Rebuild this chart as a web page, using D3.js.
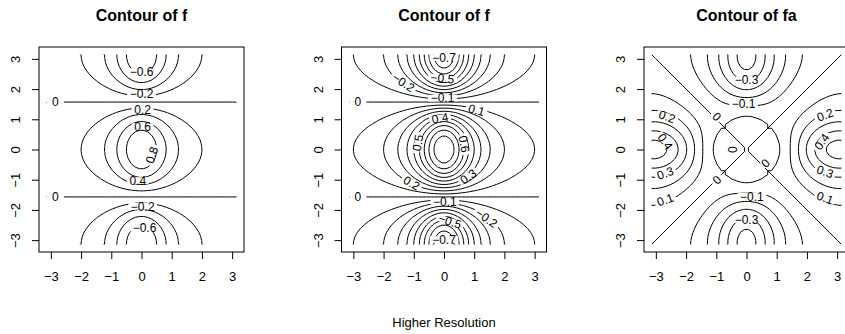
<!DOCTYPE html>
<html>
<head>
<meta charset="utf-8">
<script src="https://cdn.jsdelivr.net/npm/d3@7"></script>
<style>
body { margin: 0; background: #fff; }
text { font-family: "Liberation Sans", Arial, Helvetica, sans-serif; fill: #000; }
</style>
</head>
<body>
<div id="root"></div>
<script>
const width = 845;
const height = 334;

// x = y = seq(-pi, pi, length.out = 50); f = outer(x, y, function(x, y) cos(y)/(1 + x^2))
const gridN = 50;
// cos(y) at the grid points
const cosY = [-1, -0.99179, -0.96729, -0.92692, -0.87132, -0.80141, -0.71835, -0.62349, -0.51839, -0.40478,
  -0.28453, -0.15960, -0.03205, 0.09602, 0.22252, 0.34537, 0.46254, 0.57212, 0.67230, 0.76145,
  0.83809, 0.90097, 0.94906, 0.98156, 0.99795, 0.99795, 0.98156, 0.94906, 0.90097, 0.83809,
  0.76145, 0.67230, 0.57212, 0.46254, 0.34537, 0.22252, 0.09602, -0.03205, -0.15960, -0.28453,
  -0.40478, -0.51839, -0.62349, -0.71835, -0.80141, -0.87132, -0.92692, -0.96729, -0.99179, -1];
// 1/(1 + x^2) at the grid points
const invX = [0.09200, 0.09920, 0.10725, 0.11627, 0.12642, 0.13789, 0.15089, 0.16569, 0.18260, 0.20201,
  0.22436, 0.25021, 0.28018, 0.31501, 0.35552, 0.40259, 0.45704, 0.51951, 0.59008, 0.66783,
  0.75021, 0.83235, 0.90681, 0.96432, 0.99591, 0.99591, 0.96432, 0.90681, 0.83235, 0.75021,
  0.66783, 0.59008, 0.51951, 0.45704, 0.40259, 0.35552, 0.31501, 0.28018, 0.25021, 0.22436,
  0.20201, 0.18260, 0.16569, 0.15089, 0.13789, 0.12642, 0.11627, 0.10725, 0.09920, 0.09200];

const levelsF = [-0.8, -0.6, -0.4, -0.2, 0, 0.2, 0.4, 0.6, 0.8];
const levelsF15 = [-0.9, -0.8, -0.7, -0.6, -0.5, -0.4, -0.3, -0.2, -0.1, 0, 0.1, 0.2, 0.3, 0.4, 0.5, 0.6, 0.7, 0.8, 0.9];
const levelsFa = [-0.5, -0.4, -0.3, -0.2, -0.1, 0, 0.1, 0.2, 0.3, 0.4, 0.5];

const titles = ['Contour of f', 'Contour of f', 'Contour of fa'];
const tickValues = [-3, -2, -1, 0, 1, 2, 3];
const outerTitle = 'Higher Resolution';

// contour labels: [level, x, y, angle]
const labels1 = [[-0.6, 0, 2.58, 0], [-0.2, 0, 1.86, 0], [0, -2.85, 1.5708, 0], [0.2, 0.04, 1.31, 0],
  [0.6, 0.04, 0.76, 0], [0.8, 0.34, -0.18, -72], [0.4, -0.12, -1.03, 0], [0, -2.85, -1.5708, 0],
  [-0.2, 0.04, -1.88, 0], [-0.6, 0.1, -2.6, 0]];
const labels2 = [[-0.7, 0, 3.04, 0], [-0.5, -0.05, 2.36, 5], [-0.2, -1.34, 2.22, 33], [-0.1, -0.05, 1.7, 0],
  [0, -2.85, 1.5708, 0], [0.1, 1.08, 1.31, 15], [0.4, -0.13, 1.04, -10], [0.5, -0.87, 0.22, -80],
  [0.6, 0.67, 0.18, 80], [0.2, -1.07, -1.11, 30], [0.3, 0.8, -0.89, -35], [0, -2.85, -1.5708, 0],
  [-0.1, 0.03, -1.72, 0], [-0.5, 0.2, -2.38, 18], [-0.2, 1.41, -2.27, 35], [-0.7, 0, -2.98, 0]];
const labels3 = [[-0.3, 0, 2.3, 0], [-0.1, -0.1, 1.53, 0], [0.2, -2.63, 1.09, 20], [0, -0.98, 1.09, 45],
  [0.2, 2.6, 1.15, -20], [0.4, -2.69, 0.26, 55], [0.4, 2.49, 0.26, -55], [0, -0.48, 0, 90],
  [0, 0.62, -0.45, -45], [0.3, -2.69, -0.78, -20], [0.3, 2.6, -0.73, 20], [0, -0.98, -1.0, -45],
  [0.1, -2.69, -1.66, -20], [-0.1, 0.18, -1.55, 0], [0.1, 2.6, -1.6, 20], [-0.3, 0, -2.32, 0]];

// value grids (x index fastest)
const fValues = [];
const faValues = [];
for (let j = 0; j < gridN; j++) {
  for (let i = 0; i < gridN; i++) {
    fValues.push(invX[i] * cosY[j]);
    faValues.push((invX[i] * cosY[j] - invX[j] * cosY[i]) / 2);
  }
}
const gridX = d3.range(gridN).map(i => -Math.PI + i * 2 * Math.PI / (gridN - 1));
const lim = Math.PI * 1.08;

const panels = [
  {cx: 141.5, values: fValues, levels: levelsF, labels: labels1, title: titles[0]},
  {cx: 444, values: fValues, levels: levelsF15, labels: labels2, title: titles[1]},
  {cx: 746.5, values: faValues, levels: levelsFa, labels: labels3, title: titles[2]}
];

const svg = d3.select('#root').append('svg')
  .attr('width', width).attr('height', height);
const defs = svg.append('defs');

const fmt = v => v < 0 ? '\u2212' + Math.abs(v) : String(v);

panels.forEach((p, k) => {
  const sx = d3.scaleLinear().domain([-lim, lim]).range([p.cx - 102.5, p.cx + 102.5]);
  const sy = d3.scaleLinear().domain([-lim, lim]).range([252, 47]);
  const step = gridX[1] - gridX[0];
  const toPx = ([cx, cy]) => [sx(gridX[0] + (cx - 0.5) * step), sy(gridX[0] + (cy - 0.5) * step)];
  const x0 = sx(gridX[0]), x1 = sx(gridX[gridN - 1]);
  const y0 = sy(gridX[0]), y1 = sy(gridX[gridN - 1]);

  defs.append('clipPath').attr('id', 'clip' + k)
    .append('rect').attr('x', x0).attr('y', y1).attr('width', x1 - x0).attr('height', y0 - y1);

  const contours = d3.contours().size([gridN, gridN]).thresholds(p.levels)(p.values);

  const g = svg.append('g');
  const lineG = g.append('g').attr('clip-path', `url(#clip${k})`);
  contours.forEach(c => {
    lineG.append('g').selectAll('path')
      .data(c.coordinates.flat().map(r => r.map(toPx)))
      .enter().append('path')
      .attr('d', d3.line())
      .attr('fill', 'none')
      .attr('stroke', '#000')
      .attr('stroke-width', 1);
  });

  // labels, with the lines under them blanked out
  const haloG = g.append('g');
  const labelG = g.append('g').attr('font-size', 12);
  p.labels.forEach(([lv, ax, ay, ang]) => {
    const tf = `translate(${sx(ax)},${sy(ay)}) rotate(${ang})`;
    const t = labelG.append('text')
      .attr('transform', tf)
      .attr('text-anchor', 'middle')
      .attr('dy', '0.36em')
      .text(fmt(lv));
    const w = t.node().getComputedTextLength();
    const hw = lv === 0 && Math.abs(ang) < 1 ? 17 : w + 5;
    haloG.append('rect')
      .attr('transform', tf)
      .attr('x', -hw / 2).attr('y', -3.3).attr('width', hw).attr('height', 6.6)
      .attr('fill', '#fff');
  });

  // box
  g.append('rect')
    .attr('x', sx(-lim)).attr('y', sy(lim))
    .attr('width', sx(lim) - sx(-lim)).attr('height', sy(-lim) - sy(lim))
    .attr('fill', 'none').attr('stroke', '#000').attr('stroke-width', 1);

  // axes
  const xAxis = d3.axisBottom(sx).tickValues(tickValues).tickSize(7).tickFormat(fmt);
  const gx = g.append('g').attr('transform', `translate(0,${sy(-lim)})`).call(xAxis);
  gx.select('.domain').remove();
  gx.selectAll('.tick text').attr('y', 29).attr('dy', 0).attr('font-size', 13)
    .attr('font-family', '"Liberation Sans", Arial, sans-serif');

  const yAxis = d3.axisLeft(sy).tickValues(tickValues).tickSize(7).tickFormat(fmt);
  const gy = g.append('g').attr('transform', `translate(${sx(-lim)},0)`).call(yAxis);
  gy.select('.domain').remove();
  gy.selectAll('.tick text')
    .attr('x', null).attr('dy', 0)
    .attr('transform', 'translate(-19,0) rotate(-90)')
    .attr('text-anchor', 'middle').attr('font-size', 13)
    .attr('font-family', '"Liberation Sans", Arial, sans-serif');

  g.append('text')
    .attr('x', p.cx).attr('y', 21)
    .attr('text-anchor', 'middle')
    .attr('font-size', 16).attr('font-weight', 'bold')
    .text(p.title);
});

svg.append('text')
  .attr('x', 444).attr('y', 326.5)
  .attr('text-anchor', 'middle')
  .attr('font-size', 13)
  .text(outerTitle);
</script>
</body>
</html>
